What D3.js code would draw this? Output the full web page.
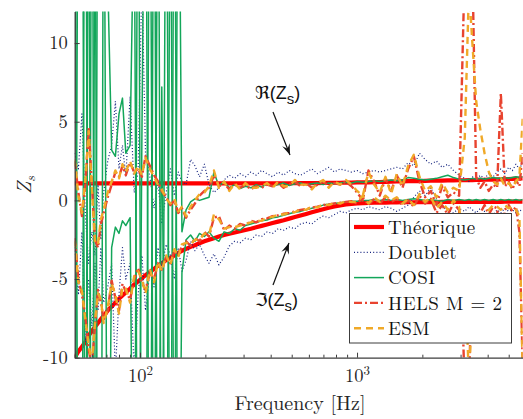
<!DOCTYPE html>
<html><head><meta charset="utf-8">
<script src="https://cdn.jsdelivr.net/npm/d3@7"></script>
<style>body{margin:0;background:#fff}svg{display:block}</style>
</head><body><svg id="c" width="523" height="419"></svg>
<script>
const freq = [50,52,54,56,58,60,62,64,66,68,
 71,74,77,80,83,86,90,94,98,102,
 106,111,116,121,126,132,138,144,150,156,
 163,171,179,188,198,208,219,231,244,258,
 273,289,306,324,343,363,385,408,433,459,
 487,517,549,583,619,657,698,741,787,836,
 888,943,1001,1063,1129,1199,1273,1352,1436,1525,
 1620,1720,1827,1940,2060,2188,2323,2467,2620,2782,
 2954,3137,3280,3400,3540,3700,3870,4050,4240,4420,
 4600,4800,5000,5200,5400,5600,5800];

const theoRe = [1.08,1.08,1.08,1.08,1.08,1.08,1.08,1.08,1.08,1.08,
 1.08,1.08,1.08,1.08,1.08,1.08,1.08,1.08,1.08,1.08,
 1.08,1.08,1.08,1.08,1.08,1.08,1.08,1.08,1.08,1.08,
 1.08,1.08,1.08,1.08,1.08,1.08,1.08,1.08,1.08,1.08,
 1.08,1.08,1.08,1.08,1.08,1.08,1.08,1.09,1.09,1.09,
 1.09,1.09,1.1,1.1,1.1,1.1,1.11,1.11,1.12,1.12,
 1.13,1.13,1.14,1.15,1.15,1.16,1.17,1.18,1.19,1.2,
 1.21,1.22,1.23,1.23,1.24,1.25,1.25,1.26,1.27,1.27,
 1.28,1.28,1.29,1.29,1.3,1.3,1.31,1.32,1.32,1.33,
 1.34,1.35,1.36,1.37,1.38,1.39,1.4];
const theoIm = [-10.0,-9.6,-9.3,-9.0,-8.6,-8.3,-8.05,-7.8,-7.55,-7.35,
 -7.0,-6.75,-6.5,-6.25,-6.05,-5.85,-5.6,-5.35,-5.15,-4.95,
 -4.75,-4.55,-4.35,-4.15,-4.0,-3.8,-3.65,-3.5,-3.35,-3.2,
 -3.08,-2.95,-2.85,-2.72,-2.6,-2.5,-2.4,-2.3,-2.2,-2.12,
 -2.04,-1.96,-1.88,-1.8,-1.71,-1.62,-1.53,-1.44,-1.35,-1.26,
 -1.16,-1.06,-0.96,-0.86,-0.76,-0.66,-0.56,-0.47,-0.39,-0.32,
 -0.26,-0.22,-0.19,-0.17,-0.16,-0.15,-0.14,-0.14,-0.13,-0.13,
 -0.12,-0.12,-0.12,-0.11,-0.11,-0.11,-0.11,-0.1,-0.1,-0.1,
 -0.1,-0.1,-0.1,-0.1,-0.1,-0.09,-0.09,-0.09,-0.09,-0.09,
 -0.09,-0.08,-0.08,-0.08,-0.08,-0.08,-0.08];

const doubRe = [3.0,2.0,5.5,-1.0,-4.0,-2.0,-3.5,1.0,-2.5,0.5,
 2.5,3.5,6.3,2.0,3.5,1.5,6.6,0.5,1.8,14,
 3.0,1.5,-0.5,1.2,-1.5,0.5,2.0,0.3,1.8,1.2,
 1.0,2.6,2.2,1.5,2.3,1.0,0.5,0.8,1.3,1.6,
 1.4,1.7,1.5,1.8,1.6,1.9,1.7,1.5,1.8,1.6,
 1.9,1.7,1.6,1.8,2.0,1.7,1.9,2.1,1.8,2.0,
 1.9,1.8,1.9,1.7,1.8,1.9,1.8,1.9,2.0,2.1,
 2.0,2.4,2.2,3.0,2.6,2.3,2.5,2.1,2.3,1.9,
 1.6,1.4,1.2,1.5,1.3,1.6,1.4,1.7,1.5,1.8,
 2.0,1.7,2.1,1.9,2.3,2.0,2.4];
const doubIm = [-3.0,-6.0,-2.0,-9.0,-5.0,-8.0,-4.0,-7.0,-3.0,-6.5,
 -5.5,-4.0,-11,-6.0,-3.0,-5.0,-4.0,-11,-6.0,-3.5,
 -7.0,-4.5,-5.5,-3.0,-4.2,-2.8,-3.5,-5.0,-3.0,-4.5,
 -3.8,-2.6,-3.2,-2.8,-3.5,-4.0,-3.4,-4.1,-3.6,-2.9,
 -2.6,-2.7,-2.4,-2.5,-2.2,-2.3,-2.0,-2.1,-1.8,-1.9,
 -1.7,-1.8,-1.5,-1.4,-1.5,-1.2,-1.0,-1.1,-0.9,-0.7,
 -0.8,-0.6,-0.5,-0.6,-0.4,-0.5,-0.6,-0.4,-0.5,-0.7,
 -0.5,-0.3,0.2,0.6,0.3,0.8,0.1,-0.4,-0.6,-0.8,
 -0.5,-0.7,-0.4,-0.6,-0.8,-0.5,-0.7,-0.6,-0.9,-0.6,
 -0.8,-0.5,-0.7,-0.6,-0.8,-0.6,-0.7];

const cosiRe = [30,-30,-25,40,-40,35,-30,30,40,20,
 14,3.2,2.8,5.5,6.5,3.0,3.5,20,-30,4,
 30,-35,30,-30,7.2,-30,25,-25,30,-2,
 -0.6,-0.1,0.1,0.0,0.1,0.2,1.8,0.9,1.2,0.8,
 1.0,0.75,0.9,0.8,1.0,0.85,1.05,0.9,1.0,1.1,
 0.95,1.05,1.1,1.0,1.05,1.1,1.0,1.1,1.05,1.1,
 1.15,1.1,1.2,1.15,1.2,1.25,1.2,1.25,1.3,1.25,
 1.3,1.45,1.4,1.35,1.3,1.35,1.4,1.5,1.6,1.45,
 1.35,1.3,1.35,1.4,1.35,1.4,1.35,1.4,1.45,1.4,
 1.4,1.45,1.4,1.45,1.5,1.45,1.5];
const cosiIm = [-30,30,35,-30,30,-40,25,-30,-35,30,
 -30,-3.0,-1.7,-2.1,-1.3,-1.6,-1.1,-30,30,-30,
 -30,30,-30,30,-30,30,-30,30,-30,-4.6,
 -2.5,-2.2,-2.6,-2.1,-2.3,-2.0,-2.4,-2.6,-2.0,-2.1,
 -1.8,-1.9,-1.6,-1.5,-1.4,-1.3,-1.25,-1.1,-1.05,-0.95,
 -0.85,-0.75,-0.7,-0.6,-0.5,-0.4,-0.3,-0.25,-0.2,-0.15,
 -0.1,-0.05,-0.05,0.0,0.0,0.05,0.0,0.05,0.0,0.05,
 0.0,0.05,0.1,0.05,0.0,0.05,0.0,-0.05,0.05,0.0,
 0.05,0.0,0.05,0.0,0.05,0.0,0.05,0.0,0.05,0.0,
 0.05,0.0,0.05,0.0,0.05,0.0,0.05];

const helsRe = [2.5,0.5,-1.0,1.0,4.6,1.0,-2.5,-3.0,-1.5,-0.8,
 0.2,1.0,1.8,1.5,2.2,1.6,2.4,1.8,2.0,1.5,
 2.8,2.2,1.6,1.2,0.6,0.2,-0.3,0.0,-0.8,-0.5,
 -1.1,-0.6,-0.2,0.3,0.6,0.8,1.6,0.9,1.1,0.7,
 1.0,0.8,1.0,0.7,0.9,0.8,1.0,0.9,1.1,0.8,
 1.0,1.2,0.9,1.1,0.8,1.0,1.2,0.9,1.1,1.0,
 1.2,0.9,0.5,0.0,1.9,1.2,0.3,1.4,0.6,1.6,
 0.8,2.0,2.8,1.2,0.2,0.6,-0.3,0.9,0.2,0.5,
 0.3,15,15,15,1.5,0.8,1.2,0.6,1.0,0.8,
 6.8,0.9,1.2,0.7,1.3,0.9,3.0];
const helsIm = [-2.4,-5.0,-6.0,-7.4,-9.5,-10.5,-8.0,-5.7,-6.5,-7.6,
 -7.0,-5.1,-6.2,-7.0,-5.3,-5.8,-6.3,-5.0,-4.3,-5.2,
 -5.7,-4.6,-5.0,-4.0,-4.4,-3.6,-4.0,-3.2,-3.5,-2.9,
 -2.6,-2.9,-2.4,-2.6,-2.0,-2.3,-1.1,-1.0,-1.9,-1.6,
 -1.8,-1.5,-1.6,-1.3,-1.4,-1.2,-1.15,-1.0,-0.95,-0.85,
 -0.8,-0.7,-0.6,-0.55,-0.45,-0.4,-0.3,-0.25,-0.2,-0.15,
 -0.1,-0.05,-0.2,0.2,-0.3,0.1,-0.2,0.2,-0.1,0.1,
 -0.3,0.0,-0.4,0.3,-0.2,0.1,-0.8,-0.3,-0.9,-0.2,
 -0.6,-12,-12,-3.0,-1.5,-0.8,-0.3,-0.9,-0.4,-0.5,
 -3.5,-0.6,-0.3,-0.7,-0.4,-2.0,-10.5];

const esmRe = [2.6,0.3,-0.8,1.3,4.4,0.8,-2.7,-2.8,-1.2,-0.6,
 0.5,1.2,1.9,1.4,2.3,1.8,2.5,1.7,2.2,1.6,
 2.7,2.0,1.5,1.0,0.7,0.1,-0.2,0.1,-0.7,-0.4,
 -1.0,-0.4,0.0,0.4,0.5,0.9,1.9,0.8,1.2,0.6,
 1.1,0.7,1.1,0.8,0.8,0.9,1.1,0.8,1.2,0.9,
 0.9,1.3,1.0,1.0,0.7,1.1,1.3,0.8,1.2,1.0,
 1.3,1.0,0.6,0.3,1.8,1.0,0.5,1.5,0.4,1.7,
 0.9,2.2,2.9,1.5,0.6,0.9,0.2,1.1,0.5,0.8,
 0.6,4.0,13.5,10.0,6.3,4.5,3.0,1.8,1.2,1.0,
 1.4,0.9,1.1,0.8,1.2,1.5,5.2];
const esmIm = [-2.6,-5.2,-5.8,-7.6,-9.2,-10.3,-7.8,-5.9,-6.3,-7.8,
 -6.8,-5.3,-6.0,-7.2,-5.5,-5.6,-6.5,-4.8,-4.5,-5.0,
 -5.9,-4.4,-5.2,-3.9,-4.5,-3.5,-4.1,-3.1,-3.6,-2.8,
 -2.7,-2.8,-2.5,-2.5,-2.1,-2.2,-0.9,-1.2,-1.8,-1.7,
 -1.7,-1.6,-1.5,-1.4,-1.3,-1.3,-1.1,-1.05,-0.9,-0.9,
 -0.75,-0.75,-0.55,-0.6,-0.4,-0.45,-0.25,-0.3,-0.15,-0.2,
 -0.05,-0.1,-0.1,0.3,-0.2,0.2,-0.1,0.3,0.0,0.2,
 -0.2,0.1,-0.3,0.4,-0.1,0.2,-0.5,-0.1,-0.6,0.0,
 -0.4,-4.0,-11.5,-6.0,-3.0,-1.8,-1.0,-0.6,-0.3,-0.4,
 -0.6,-0.3,-0.5,-0.4,-0.6,-1.0,-11];

const yTicks = [-10, -5, 0, 5, 10];
const xTicks = [50,60,70,80,90,100,200,300,400,500,600,700,800,900,1000,2000,3000,4000,5000];
const xMajor = [100, 1000];
const legendLabels = ["Théorique", "Doublet", "COSI", "HELS M = 2", "ESM"];
const reLabel = "ℜ(Z", imLabel = "ℑ(Z", subS = "s";

const SERIF = '"Latin Modern Roman","Liberation Serif",serif';
const SANS = '"Liberation Sans","DejaVu Sans",sans-serif';
const svg = d3.select("#c");
const x = d3.scaleLog().domain([50, 5800]).range([74.7, 522.7]);
const y = d3.scaleLinear().domain([-10, 12]).range([357.7, 11.6]);
const axisCol = "#3c3c3c";

svg.append("defs").append("clipPath").attr("id","clip")
  .append("rect").attr("x", x.range()[0]).attr("y", y.range()[1])
  .attr("width", x.range()[1]-x.range()[0]).attr("height", y.range()[0]-y.range()[1]);

const styles = {
  theo: {stroke:"#ff0000", w:4.2, dash:null},
  doub: {stroke:"#14237f", w:1.2, dash:"1,2.2"},
  cosi: {stroke:"#13a65a", w:1.5, dash:null},
  hels: {stroke:"#e8432f", w:2.4, dash:"8,3,2,3"},
  esm:  {stroke:"#f0a928", w:2.4, dash:"7,5"}
};
const series = [
  ["theo", theoRe], ["theo", theoIm],
  ["doub", doubRe], ["doub", doubIm],
  ["cosi", cosiRe], ["cosi", cosiIm],
  ["hels", helsRe], ["hels", helsIm],
  ["esm", esmRe], ["esm", esmIm]
];
const line = d3.line().x((d,i)=>x(freq[i])).y(d=>y(d));
const g = svg.append("g").attr("clip-path","url(#clip)");
series.forEach(([k, vals]) => {
  const s = styles[k];
  g.append("path").attr("d", line(vals)).attr("fill","none")
   .attr("stroke", s.stroke).attr("stroke-width", s.w)
   .attr("stroke-dasharray", s.dash).attr("stroke-linejoin","round");
});

// axes
const xAxis = d3.axisBottom(x).tickValues(xTicks).tickSizeInner(-3).tickSizeOuter(0).tickPadding(11)
  .tickFormat(d => xMajor.includes(d) ? "10" : "");
const gx = svg.append("g").attr("transform", `translate(0,${y(-10)})`).call(xAxis);
gx.selectAll(".tick line").attr("y2", d => xMajor.includes(d) ? -5 : -3);
gx.selectAll(".tick text").filter(d => !xMajor.includes(d)).remove();
gx.selectAll(".tick text")
  .append("tspan").attr("dy","-0.5em").attr("font-size","0.7em").text(d => String(Math.round(Math.log10(d))));
const yAxis = d3.axisLeft(y).tickValues(yTicks).tickSizeInner(-5).tickSizeOuter(0).tickPadding(7)
  .tickFormat(d => String(d));
const gy = svg.append("g").attr("transform", `translate(${x(50)},0)`).call(yAxis);
[gx, gy].forEach(a => {
  a.attr("font-family", null);
  a.select(".domain").attr("stroke", axisCol).attr("stroke-width", 1.3);
  a.selectAll(".tick line").attr("stroke", axisCol).attr("stroke-width", 1);
  a.selectAll(".tick text").style("font-family", SERIF).attr("font-size", 18.5).attr("fill","#262626");
});

// axis titles
svg.append("text").style("font-family", SERIF).attr("x", 300).attr("y", 410).attr("text-anchor","middle")
  .attr("font-size", 20).attr("fill","#262626").text("Frequency [Hz]");
const yl = svg.append("text").style("font-family", SERIF).attr("transform","translate(31,185) rotate(-90)").attr("text-anchor","middle")
  .attr("font-size", 20).attr("fill","#262626");
yl.append("tspan").attr("font-style","italic").text("Z");
yl.append("tspan").attr("font-style","italic").attr("font-size", 14).attr("dy", 4).text("s");

// annotations
function label(txt, xx, yy){
  const t = svg.append("text").style("font-family", SANS).attr("x", xx).attr("y", yy)
    .attr("font-size", 18).attr("fill","#111");
  t.append("tspan").text(txt);
  t.append("tspan").attr("font-size", 15).attr("dy", 5).text(subS);
  t.append("tspan").attr("dy", -5).text(")");
}
label(reLabel, 255, 99);
label(imLabel, 255, 306);
function arrow(x1,y1,x2,y2){
  svg.append("line").attr("x1",x1).attr("y1",y1).attr("x2",x2).attr("y2",y2)
    .attr("stroke","#111").attr("stroke-width",1.2);
  const a = Math.atan2(y2-y1, x2-x1), L = 11, W = 4;
  const bx = x2 - L*Math.cos(a), by = y2 - L*Math.sin(a);
  const px = -Math.sin(a)*W, py = Math.cos(a)*W;
  svg.append("path").attr("d", `M${x2},${y2}L${bx+px},${by+py}L${x2-0.6*L*Math.cos(a)},${y2-0.6*L*Math.sin(a)}L${bx-px},${by-py}Z`)
    .attr("fill","#111");
}
arrow(273,112,290,155);
arrow(273,285,289,243);

// legend
const lg = svg.append("g");
lg.append("rect").attr("x",349.5).attr("y",213.5).attr("width",162).attr("height",129.5)
  .attr("fill","#fff").attr("stroke","#3c3c3c").attr("stroke-width",1);
const legKeys = ["theo","doub","cosi","hels","esm"];
legendLabels.forEach((lab, i) => {
  const cy = 227 + i*25.3, s = styles[legKeys[i]];
  lg.append("line").attr("x1",354).attr("x2",384).attr("y1",cy).attr("y2",cy)
    .attr("stroke", s.stroke).attr("stroke-width", s.w).attr("stroke-dasharray", s.dash);
  lg.append("text").style("font-family", SERIF).attr("x",388).attr("y",cy+6.6).attr("font-size",19)
    .attr("letter-spacing", 0.4).attr("fill","#111").text(lab);
});
</script></body></html>
